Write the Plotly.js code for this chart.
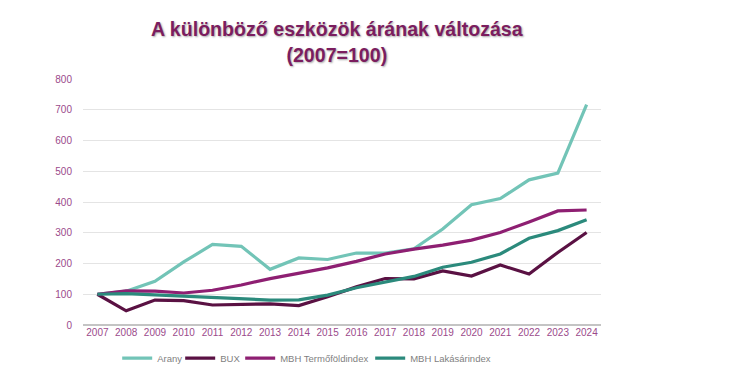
<!DOCTYPE html>
<html>
<head>
<meta charset="utf-8">
<script src="https://cdn.plot.ly/plotly-3.0.1.min.js"></script>
<style>html,body{margin:0;padding:0;background:#fff;}</style>
</head>
<body>
<div id="chart" style="width:730px;height:383px;"></div>
<script>
const years = ["2007","2008","2009","2010","2011","2012","2013","2014","2015","2016","2017","2018","2019","2020","2021","2022","2023","2024"];
const arany = [100,110,142,205,262,256,181,218,213,234,234,248,312,391,411,472,494,717];
const bux = [100,46,81,79,65,68,69,63,92,124,151,150,176,159,195,166,236,301];
const termofold = [100,111,110,104,113,130,151,168,186,207,231,247,260,276,301,335,371,374];
const lakasar = [100,102,98,94,91,85,81,82,97,121,140,158,188,204,231,282,307,342];

const seriesNames = ["Arany","BUX","MBH Termőföldindex","MBH Lakásárindex"];
const seriesData = [arany, bux, termofold, lakasar];
const colors = ["#72c4b7","#5a1143","#8e1f72","#2b8a7c"];
const legendWidths = [18, 15, 85, 80];

const traces = seriesData.map((d,i)=>({
  x: years, y: d, name: seriesNames[i], type: "scatter", mode: "lines",
  line: {color: colors[i], width: 3.2},
  legendwidth: legendWidths[i]
}));

const layout = {
  width: 730, height: 383,
  margin: {l: 83, r: 129, t: 79, b: 57},
  paper_bgcolor: "#fff", plot_bgcolor: "#fff",
  font: {family: "Liberation Sans, Arial, sans-serif"},
  title: {
    text: "A különböző eszközök árának változása<br>(2007=100)",
    font: {size: 19.6, color: "#7b1d5f", family: "Liberation Sans, Arial, sans-serif", weight: "bold", shadow: "1px 1px 2px rgba(0,0,0,0.35)"},
    x: 0.49, xref: "paper", xanchor: "center",
    y: 0.905, yref: "container", yanchor: "top"
  },
  xaxis: {
    type: "category", range: [-0.5, 17.5],
    showgrid: false, zeroline: false, showline: false,
    ticks: "", tickfont: {size: 10, color: "#9b4a8b"}, fixedrange: true
  },
  yaxis: {
    range: [0, 800], dtick: 100, showgrid: true, gridcolor: "#e4e4e4", gridwidth: 1,
    zeroline: true, zerolinecolor: "#c4c4c4", zerolinewidth: 1.5,
    showline: false, ticks: "", ticklabelstandoff: 10,
    tickfont: {size: 10, color: "#9b4a8b"}, fixedrange: true
  },
  legend: {
    orientation: "h", x: 0.066, xanchor: "left", y: -0.13, yanchor: "middle",
    font: {size: 9.5, color: "#7f7f7f"}, itemwidth: 30, tracegroupgap: 0
  },
  showlegend: true
};

Plotly.newPlot("chart", traces, layout, {displayModeBar: false, staticPlot: true});
</script>
</body>
</html>
